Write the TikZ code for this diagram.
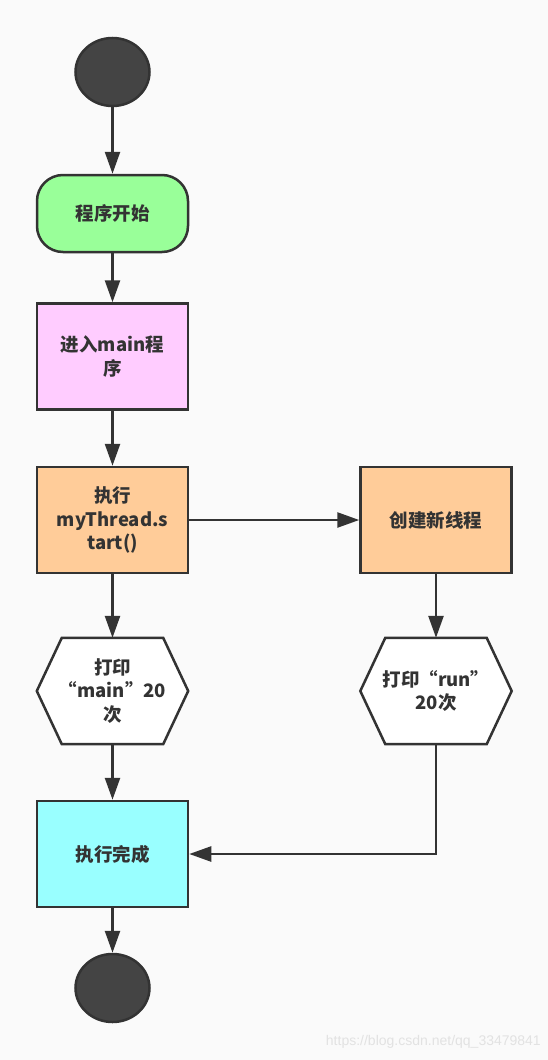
\documentclass[tikz,border=0pt]{standalone}
\usepackage{fontspec}
\newfontfamily\cjk{Noto Sans CJK SC}
\newfontfamily\wmfont{Liberation Sans}
\usetikzlibrary{arrows.meta}
\definecolor{bgc}{HTML}{FAFAFA}
\definecolor{linec}{HTML}{333333}
\definecolor{dotc}{HTML}{444444}
\definecolor{greenc}{HTML}{99FF99}
\definecolor{pinkc}{HTML}{FFCCFF}
\definecolor{orangec}{HTML}{FFCC99}
\definecolor{cyanc}{HTML}{99FFFF}
\definecolor{wmc}{HTML}{E2E2E2}
\tikzset{
  txt/.style={font=\cjk\bfseries\fontsize{18.5}{23.5}\selectfont, text=linec, align=center},
  dot/.style={ellipse, draw=linec, fill=dotc, line width=2.5pt, minimum width=74pt, minimum height=68pt, inner sep=0pt},
  box/.style={txt, rectangle, draw=linec, line width=2.5pt, minimum width=151pt, minimum height=106pt, inner sep=2pt},
  hexbox/.style={txt, rectangle, minimum width=151pt, minimum height=106pt, inner sep=2pt},
  hexline/.style={draw=linec, fill=white, line width=2.5pt, line join=miter},
  conn/.style={draw=linec, line width=2.5pt, -{Triangle[length=22pt,width=15pt]}},
}
\usetikzlibrary{shapes.geometric}
\begin{document}
\begin{tikzpicture}[x=1pt,y=-1pt]
\fill[bgc] (0,0) rectangle (548,1060);
\useasboundingbox (0,0) rectangle (548,1060);

\node[dot] (s) at (112.5,72) {};
\node[box, fill=greenc, rounded corners=26pt, minimum height=77pt] (start) at (112.5,213.5) {程序开始};
\node[box, fill=pinkc] (main) at (112.5,356.5) {进入main程\\序};
\node[box, fill=orangec] (call) at (112.5,520) {执行\\myThread.s\\tart()};
\node[box, fill=orangec] (create) at (436,520) {创建新线程};

\node[hexbox] (pm) at (112.5,691) {};
\draw[hexline] ([xshift=25pt]pm.north west) -- ([xshift=-25pt]pm.north east) -- (pm.east) -- ([xshift=-25pt]pm.south east) -- ([xshift=25pt]pm.south west) -- (pm.west) -- cycle;
\node[txt] at (pm.center) {打印\\“main”20\\次};

\node[hexbox] (pr) at (436,691) {};
\draw[hexline] ([xshift=25pt]pr.north west) -- ([xshift=-25pt]pr.north east) -- (pr.east) -- ([xshift=-25pt]pr.south east) -- ([xshift=25pt]pr.south west) -- (pr.west) -- cycle;
\node[txt] at (pr.center) {打印“run”\\20次};

\node[box, fill=cyanc] (done) at (112.5,854) {执行完成};
\node[dot] (e) at (112.5,988) {};

\draw[conn] (s) -- (start);
\draw[conn] (start) -- (main);
\draw[conn] (main) -- (call);
\draw[conn] (call) -- (create);
\draw[conn] (call) -- (pm);
\draw[conn] (create) -- (pr);
\draw[conn] (pm) -- (done);
\draw[conn] (pr.south) |- (done.east);
\draw[conn] (done) -- (e);

\node[font=\wmfont\fontsize{14}{16}\selectfont, text=wmc, anchor=east, inner sep=0pt] (wm) at (541,1042) {https://blog.csdn.net/qq\_33479841};
\end{tikzpicture}
\end{document}
